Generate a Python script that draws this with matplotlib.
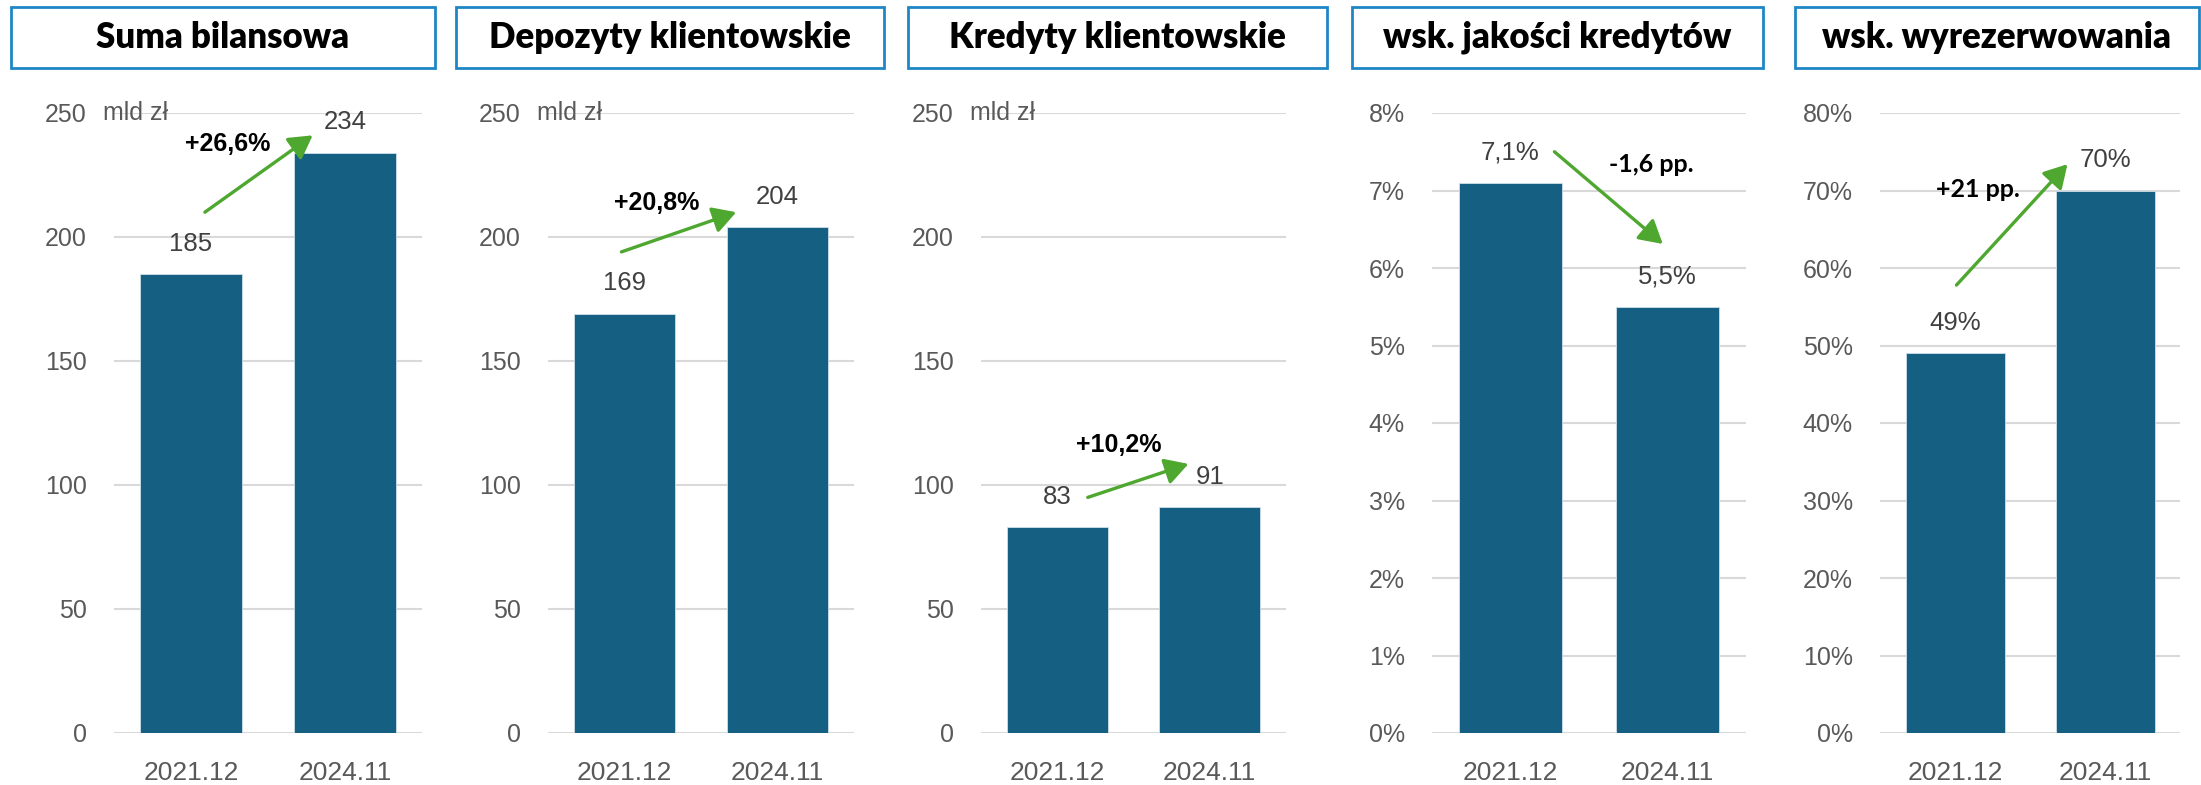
import numpy as np
import matplotlib.pyplot as plt
from matplotlib.patches import Rectangle

W, H, DPI = 2201, 785, 100

categories = ['2021.12', '2024.11']
titles = ['Suma bilansowa', 'Depozyty klientowskie', 'Kredyty klientowskie',
          'wsk. jakości kredytów', 'wsk. wyrezerwowania']
suma = [185, 234]
depozyty = [169, 204]
kredyty = [83, 91]
jakosc = [7.1, 5.5]       # %
rezerwy = [49, 70]        # %
values = [suma, depozyty, kredyty, jakosc, rezerwy]
value_labels = [['185', '234'], ['169', '204'], ['83', '91'],
                ['7,1%', '5,5%'], ['49%', '70%']]
changes = ['+26,6%', '+20,8%', '+10,2%', '-1,6 pp.', '+21 pp.']
y_max = [250, 250, 250, 8, 80]
y_step = [50, 50, 50, 1, 10]
suffix = ['', '', '', '%', '%']

# arrow (tail, head) and change label position, in data coords of each panel
arrows = [((0.09, 210), (0.79, 241)), ((-0.02, 194), (0.73, 210)),
          ((0.20, 95), (0.86, 108.5)), ((0.28, 7.5), (0.97, 6.31)),
          ((0.01, 57.8), (0.75, 73.4))]
change_pos = [(0.24, 237.5), (0.21, 213.7), (0.405, 116.3), (0.90, 7.33), (0.15, 70.1)]
change_font = ['Liberation Sans'] * 3 + ['Lato'] * 2

# layout in pixels
axes_x = [(114, 422), (548, 854), (981, 1286), (1432, 1746), (1880, 2180)]
ax_top, ax_bot = 113, 733
title_x = [(11, 435), (456, 884), (908, 1327), (1352, 1763), (1795, 2199)]
title_top, title_bot = 7, 68

BAR = '#156082'
GREEN = '#4EA72E'
GRID = '#D9D9D9'
TICK = '#595959'
LABEL = '#404040'
BORDER = '#1F86C6'

plt.rcParams['font.family'] = ['Liberation Sans', 'DejaVu Sans']

fig = plt.figure(figsize=(W / DPI, H / DPI), dpi=DPI)

for k in range(5):
    x0, x1 = axes_x[k]
    ax = fig.add_axes([x0 / W, 1 - ax_bot / H, (x1 - x0) / W, (ax_bot - ax_top) / H])
    ax.bar(range(2), values[k], width=0.66, color=BAR, edgecolor='#cfe0ea',
           linewidth=0.6, zorder=3)
    ax.set_xlim(-0.5, 1.5)
    ax.set_ylim(0, y_max[k])
    ticks = np.arange(0, y_max[k] + y_step[k] / 2, y_step[k])
    ax.set_yticks(ticks)
    ax.set_yticklabels([f'{t:g}{suffix[k]}' for t in ticks], fontsize=18, color=TICK)
    ax.set_xticks(range(2))
    ax.set_xticklabels(categories, fontsize=19, color=TICK)
    ax.tick_params(axis='y', length=0, pad=19.5)
    ax.tick_params(axis='x', length=0, pad=20)
    ax.yaxis.grid(True, color=GRID, linewidth=1.5, zorder=0)
    ax.set_axisbelow(True)
    for s in ax.spines.values():
        s.set_visible(False)

    if k < 3:
        ax.annotate('mld zł', xy=(0, y_max[k]), xycoords=('axes fraction', 'data'),
                    xytext=(-8, 0), textcoords='offset points', ha='left',
                    va='center', fontsize=18, color=TICK, annotation_clip=False)

    for i, v in enumerate(values[k]):
        ax.annotate(value_labels[k][i], xy=(i, v), xytext=(0, 22),
                    textcoords='offset points', ha='center', va='center',
                    fontsize=18.5, color=LABEL, annotation_clip=False)

    tail, head = arrows[k]
    ax.annotate('', xy=head, xytext=tail,
                arrowprops=dict(arrowstyle='-|>,head_length=0.7,head_width=0.4',
                                color=GREEN, lw=2.4, shrinkA=0, shrinkB=0,
                                mutation_scale=20),
                annotation_clip=False)
    ax.text(change_pos[k][0], change_pos[k][1], changes[k], ha='center', va='center',
            fontsize=18, fontweight='bold', color='black', family=change_font[k])

    # title box
    tx0, tx1 = title_x[k]
    fig.add_artist(Rectangle((tx0 / W, 1 - title_bot / H), (tx1 - tx0) / W,
                             (title_bot - title_top) / H, transform=fig.transFigure,
                             facecolor='white', edgecolor=BORDER, linewidth=2))
    fig.text((tx0 + tx1) / 2 / W, 1 - (title_top + title_bot) / 2 / H, titles[k],
             ha='center', va='center', fontsize=25, fontweight='heavy',
             family='Lato', color='black')

fig.savefig('out.png', dpi=DPI, facecolor='white')
